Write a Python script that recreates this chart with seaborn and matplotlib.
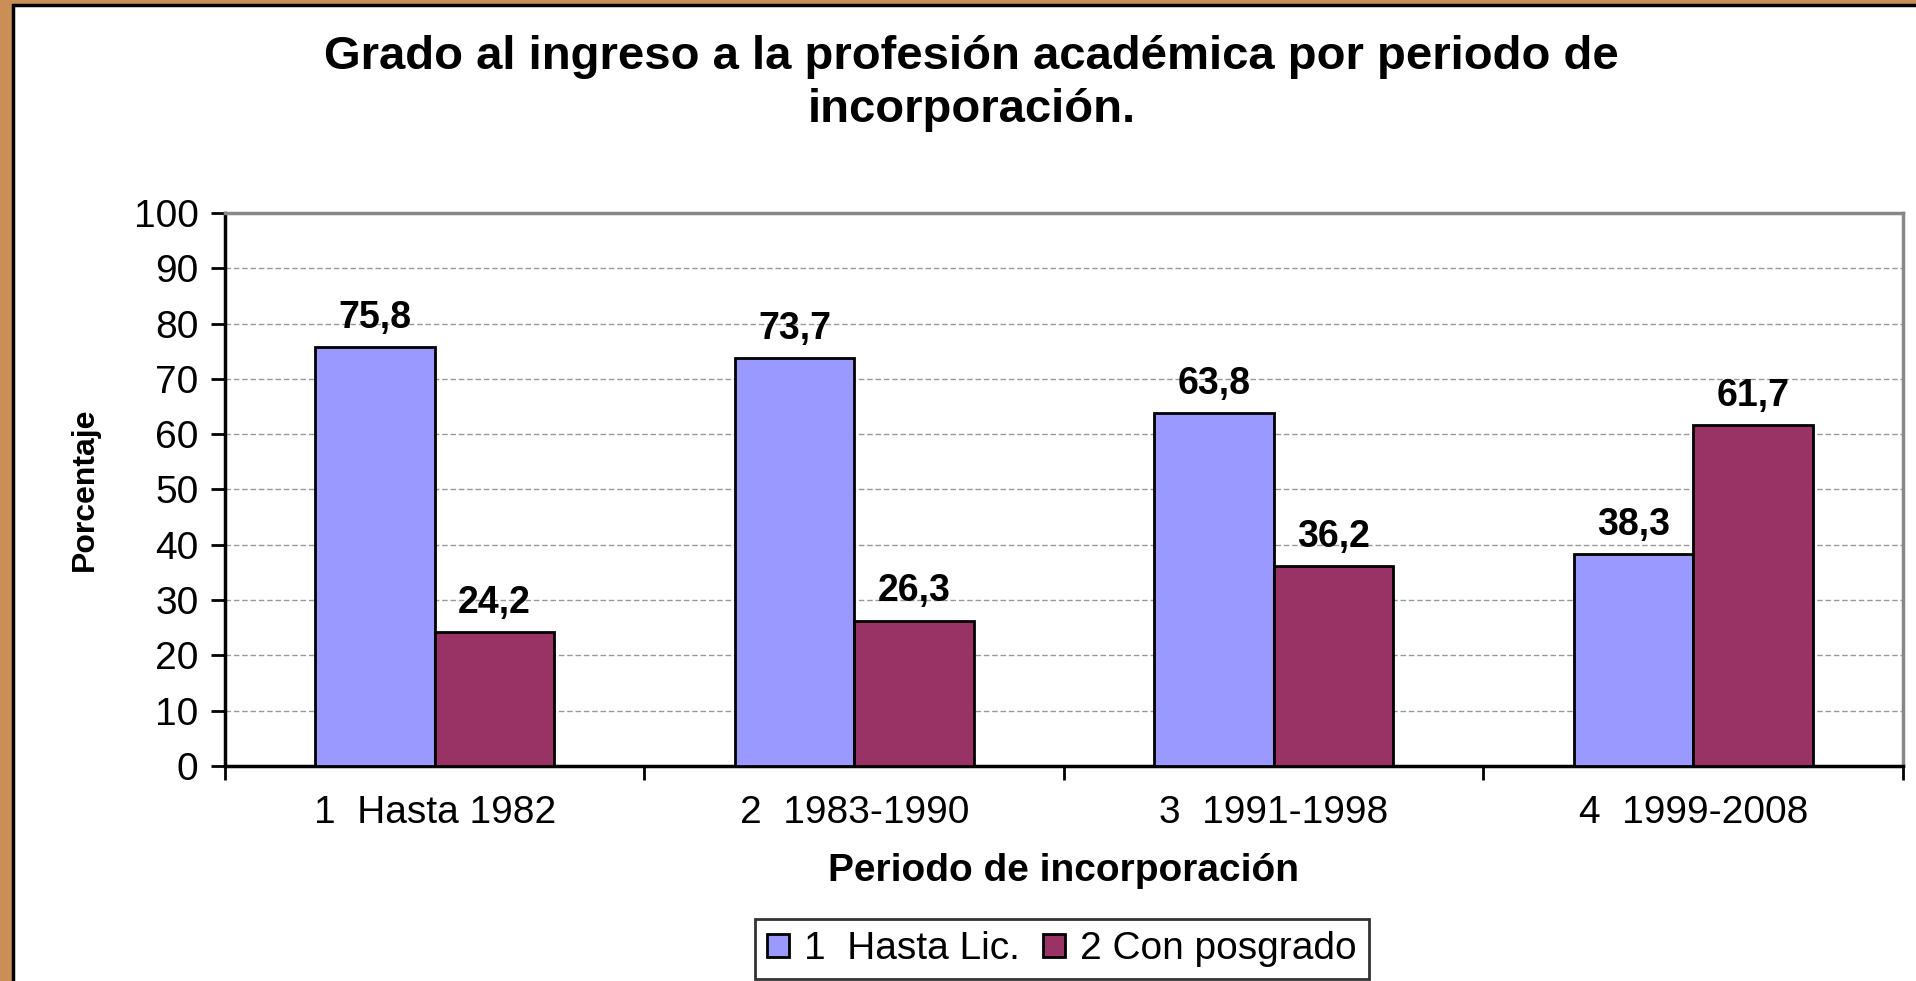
import pandas as pd
import seaborn as sns
import matplotlib.pyplot as plt
from matplotlib.patches import Rectangle
from matplotlib.ticker import FixedLocator

# datos del gráfico
periodos = ['1  Hasta 1982', '2  1983-1990', '3  1991-1998', '4  1999-2008']
grados = ['1  Hasta Lic.', '2 Con posgrado']
hasta_lic = [75.8, 73.7, 63.8, 38.3]
con_posgrado = [24.2, 26.3, 36.2, 61.7]
y_ticks = list(range(0, 101, 10))

df = pd.DataFrame({
    'periodo': periodos * 2,
    'grado': [grados[0]] * 4 + [grados[1]] * 4,
    'pct': hasta_lic + con_posgrado,
})

sns.set_theme(style='white')
plt.rcParams['font.family'] = ['Liberation Sans', 'DejaVu Sans']
plt.rcParams['text.color'] = 'black'
plt.rcParams['axes.labelcolor'] = 'black'
plt.rcParams['xtick.color'] = 'black'
plt.rcParams['ytick.color'] = 'black'

fig = plt.figure(figsize=(19.16, 9.81), dpi=100)

# marco de madera + fondo blanco con borde negro
fig.patches.append(Rectangle((0, 0), 1, 1, transform=fig.transFigure,
                             facecolor='#c98f55', edgecolor='none', zorder=-3))
fig.patches.append(Rectangle((13 / 1916, -0.05), 1.1, 1.05 - 5 / 981,
                             transform=fig.transFigure, facecolor='white',
                             edgecolor='black', linewidth=2.5, zorder=-2))

ax = fig.add_axes([0.1174, 0.2192, 0.9932 - 0.1174, 0.7829 - 0.2192])
ax.set_facecolor('white')

sns.barplot(data=df, x='periodo', y='pct', hue='grado',
            palette=['#9999ff', '#993366'], width=0.57,
            edgecolor='black', linewidth=2, saturation=1, ax=ax, zorder=3)

for cont in ax.containers:
    labels = [f'{v:.1f}'.replace('.', ',') for v in cont.datavalues]
    ax.bar_label(cont, labels=labels, padding=8, fontsize=27,
                 fontweight='bold', zorder=4)

ax.set_ylim(0, 100)
ax.set_xlim(-0.5, 3.5)
ax.set_yticks(y_ticks)
ax.tick_params(axis='y', labelsize=28, length=10, width=2, direction='out',
               left=True, pad=9)
ax.yaxis.grid(True, linestyle=(0, (4, 2)), color='#999999', linewidth=1)
ax.set_axisbelow(True)

ax.tick_params(axis='x', which='major', labelsize=28, length=0, pad=21)
ax.xaxis.set_minor_locator(FixedLocator([-0.5, 0.5, 1.5, 2.5, 3.5]))
ax.tick_params(axis='x', which='minor', length=10, width=2,
               direction='out', bottom=True)

for side in ['left', 'bottom']:
    ax.spines[side].set_color('black')
    ax.spines[side].set_linewidth(2.5)
for side in ['top', 'right']:
    ax.spines[side].set_color('#888888')
    ax.spines[side].set_linewidth(2.5)

ax.set_xlabel('Periodo de incorporación', fontsize=28, fontweight='bold',
              labelpad=16)
ax.set_ylabel('Porcentaje', fontsize=23, fontweight='bold', labelpad=24,
              family=['Liberation Sans Narrow', 'Liberation Sans'])

fig.text(0.507, 0.915, 'Grado al ingreso a la profesión académica por periodo de\nincorporación.',
         ha='center', va='center', fontsize=34, fontweight='bold',
         linespacing=1.25)

leg = ax.legend(loc='center', bbox_to_anchor=(1062 / 1916, 1 - 949 / 981),
                bbox_transform=fig.transFigure, ncol=2, fontsize=28,
                frameon=True, fancybox=False, edgecolor='black',
                handlelength=0.55, handleheight=0.55, handletextpad=0.4,
                columnspacing=0.6, borderpad=0.3, borderaxespad=0)
leg.get_frame().set_linewidth(2)

fig.savefig('out.png', dpi=100)
